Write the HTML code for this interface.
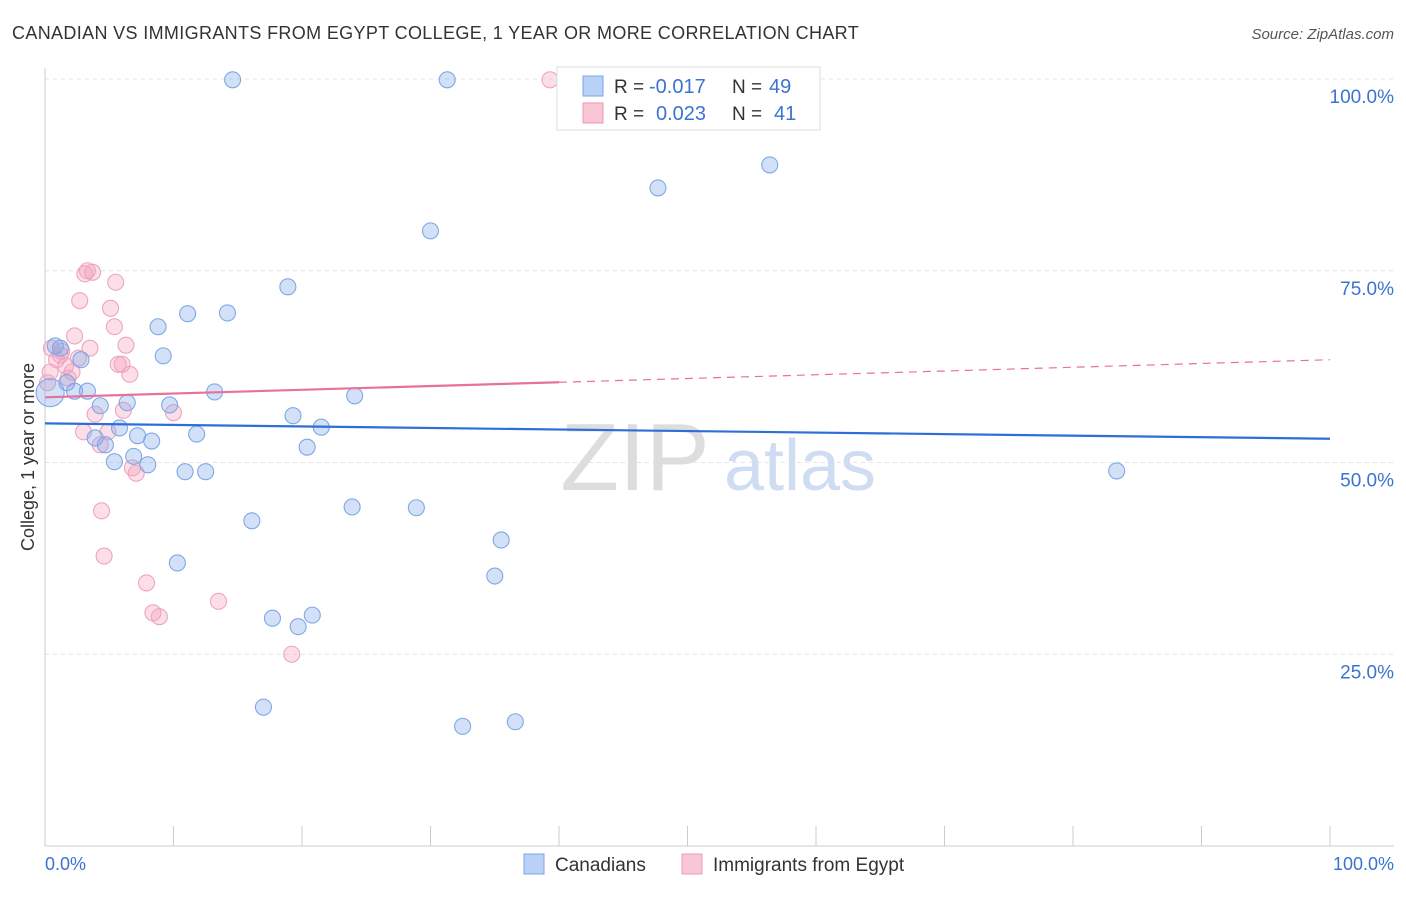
<!DOCTYPE html>
<html><head><meta charset="utf-8"><style>
body{margin:0;background:#fff;font-family:"Liberation Sans",sans-serif}
svg text{font-family:"Liberation Sans",sans-serif}
</style></head><body>
<svg id="chart" width="1406" height="892" xmlns="http://www.w3.org/2000/svg">
<text x="12" y="39" font-size="18" fill="#333" letter-spacing="0.35">CANADIAN VS IMMIGRANTS FROM EGYPT COLLEGE, 1 YEAR OR MORE CORRELATION CHART</text>
<text x="1394" y="39" font-size="15" fill="#555" text-anchor="end" font-style="italic">Source: ZipAtlas.com</text>
<g id="grid"></g>
<g><text x="635" y="490" font-size="96" font-family="Liberation Serif" fill="#ddd" text-anchor="middle">ZIP</text><text x="800" y="490" font-size="72" fill="#cfdcf2" text-anchor="middle">atlas</text></g>
<g id="marks"></g>
<text transform="translate(34,457) rotate(-90)" font-size="18" fill="#333" text-anchor="middle">College, 1 year or more</text>
<text x="45" y="870" font-size="18" fill="#3b73d1">0.0%</text>
<text x="1394" y="870" font-size="18" fill="#3b73d1" text-anchor="end">100.0%</text>
<g>
<rect x="557" y="67" width="263" height="63" fill="#fff" stroke="#ddd"/>
<rect x="583" y="76" width="20" height="20" fill="#b9d1f5" stroke="#7aa5e6"/>
<rect x="583" y="103" width="20" height="20" fill="#f9c6d6" stroke="#ec9ab5"/>
<text x="614" y="93" font-size="19" fill="#333">R =</text>
<text x="649" y="93" font-size="20" fill="#3b73d1">-0.017</text>
<text x="732" y="93" font-size="19" fill="#333">N =</text>
<text x="769" y="93" font-size="20" fill="#3b73d1">49</text>
<text x="614" y="120" font-size="19" fill="#333">R =</text>
<text x="656" y="120" font-size="20" fill="#3b73d1">0.023</text>
<text x="732" y="120" font-size="19" fill="#333">N =</text>
<text x="774" y="120" font-size="20" fill="#3b73d1">41</text>
</g>
<g>
<rect x="524" y="854" width="20" height="20" fill="#b9d1f5" stroke="#7aa5e6"/>
<text x="555" y="871" font-size="19" fill="#333">Canadians</text>
<rect x="682" y="854" width="20" height="20" fill="#f9c6d6" stroke="#ec9ab5"/>
<text x="713" y="871" font-size="19" fill="#333">Immigrants from Egypt</text>
</g>
</svg>
<script>
const yTicks=[25,50,75,100];
const yTickLabels=["25.0%","50.0%","75.0%","100.0%"];
const blueX=[14.6,31.3,56.4,47.7,30.0,18.9,14.2,11.1,8.8,9.2,0.8,2.8,1.7,2.3,3.3,13.2,24.1,4.3,6.4,9.7,19.3,21.5,5.8,3.9,4.7,7.2,8.3,11.8,20.4,6.9,5.4,8.0,10.9,12.5,83.4,16.1,23.9,28.9,35.5,10.3,35.0,17.7,20.8,19.7,17.0,32.5,36.6,0.4,1.2];
const blueY=[99.9,99.9,88.8,85.8,80.2,72.9,69.5,69.4,67.7,63.9,65.2,63.4,60.4,59.3,59.3,59.2,58.7,57.4,57.8,57.5,56.1,54.6,54.5,53.2,52.3,53.5,52.8,53.7,52.0,50.8,50.1,49.7,48.8,48.8,48.9,42.4,44.2,44.1,39.9,36.9,35.2,29.7,30.1,28.6,18.1,15.6,16.2,59.1,64.9];
const pinkX=[39.3,3.3,3.1,3.7,5.5,2.7,5.1,5.4,2.3,6.3,3.5,0.5,1.2,2.6,5.7,6.0,6.6,1.6,2.1,0.4,0.2,1.8,6.1,3.9,10.0,3.0,4.9,4.3,6.8,7.1,4.4,4.6,7.9,8.4,8.9,13.5,19.2,0.9,1.3];
const pinkY=[99.9,75.0,74.6,74.8,73.5,71.1,70.1,67.7,66.5,65.3,64.9,64.9,64.0,63.6,62.8,62.8,61.5,62.6,61.8,61.8,60.4,61.0,56.8,56.3,56.5,54.0,54.0,52.3,49.3,48.6,43.7,37.8,34.3,30.4,29.9,31.9,25.0,63.4,64.5];
const blueTrend=[55.1,53.1];
const pinkTrend=[58.5,63.4];
const X0=45,X1=1330,Y0=846,Y100=79;
const sx=v=>X0+(X1-X0)*v/100, sy=v=>Y0-(Y0-Y100)*v/100;
const NS="http://www.w3.org/2000/svg";
function mk(t,a,p){const e=document.createElementNS(NS,t);for(const k in a)e.setAttribute(k,a[k]);p.appendChild(e);return e;}
const grid=document.getElementById('grid'),marks=document.getElementById('marks'),svg=document.getElementById('chart');
yTicks.forEach((t,i)=>{
 const l=mk('line',{x1:X0,x2:1394,y1:sy(t),y2:sy(t),stroke:'#e4e4e4','stroke-dasharray':'4,4'},grid);
 
 
 const tx=mk('text',{x:1394,y:sy(t)+24,'font-size':19,fill:'#3b73d1','text-anchor':'end'},svg);
 tx.textContent=yTickLabels[i];
 
 
});
const ax=mk('line',{x1:X0,x2:X0,y1:68,y2:Y0,stroke:'#ccc'},grid);


const bx=mk('line',{x1:X0,x2:1394,y1:Y0,y2:Y0,stroke:'#ccc'},grid);


for(let i=0;i<=10;i++){const t=mk('line',{x1:sx(i*10),x2:sx(i*10),y1:826,y2:Y0,stroke:'#ccc'},grid);
 
 }
function pts(xs,ys,fill,stroke,name){xs.forEach((x,i)=>{
 const r=(name==='canadian-point'&&i===xs.length-2)?14:8;
 const c=mk('circle',{cx:sx(x),cy:sy(ys[i]),r:r,fill:fill,stroke:stroke,'stroke-width':1.1},marks);
 
 });}
pts(pinkX,pinkY,'rgba(244,160,188,0.35)','#eea5bf','egypt-point');
pts(blueX,blueY,'rgba(130,170,235,0.35)','#7fa8e3','canadian-point');
const bl=mk('line',{x1:sx(0),y1:sy(blueTrend[0]),x2:sx(100),y2:sy(blueTrend[1]),stroke:'#2e6fd6','stroke-width':2.2},marks);


const pm=pinkTrend[0]+(pinkTrend[1]-pinkTrend[0])*0.4;
const pl=mk('line',{x1:sx(0),y1:sy(pinkTrend[0]),x2:sx(40),y2:sy(pm),stroke:'#e8719a','stroke-width':2.2},marks);


const pd=mk('line',{x1:sx(40),y1:sy(pm),x2:sx(100),y2:sy(pinkTrend[1]),stroke:'#e8719a','stroke-width':1.2,'stroke-dasharray':'8,6'},marks);


</script>
</body></html>
